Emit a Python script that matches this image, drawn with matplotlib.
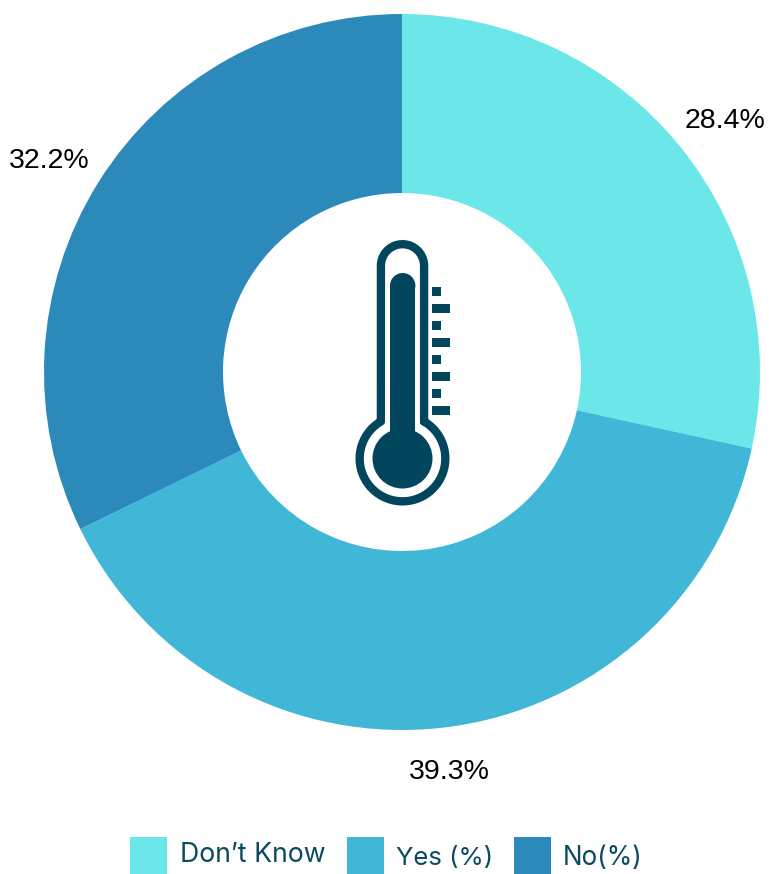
import numpy as np
import matplotlib
matplotlib.use("Agg")
import matplotlib.pyplot as plt
from matplotlib.patches import Rectangle, Circle

categories = ["Don\u2019t Know", "Yes (%)", "No(%)"]
values = [28.4, 39.3, 32.2]
colors = ["#6BE7EA", "#41B7D8", "#2C8ABA"]
ink = "#02465E"
text_dark = "#0B4A60"

W, H = 769, 874
fig = plt.figure(figsize=(W / 100, H / 100), dpi=100)
ax = fig.add_axes([0, 0, 1, 1])

# pixel-space layout: y is negated so that the pie keeps its orientation
cx, cy, R = 402, 372, 358
ax.pie(values, colors=colors, startangle=90, counterclock=False, radius=R,
       center=(cx, -cy), wedgeprops=dict(width=R / 2, linewidth=0))
ax.set_xlim(0, W)
ax.set_ylim(-H, 0)
ax.set_aspect("equal")
ax.axis("off")

# value labels
label_pos = [(724.5, 121), (449, 772), (49.5, 161)]
for v, (x, y) in zip(values, label_pos):
    ax.text(x, -y, f"{v}%", ha="center", va="center", fontsize=20.5,
            family="Liberation Sans", color="black")

# thermometer icon
tx, bulb_y, top_y = 402.5, 458.5, 265.8
tube_r, bulb_r = 21.6, 42.85
a0 = np.arcsin(tube_r / bulb_r)
th = np.linspace(-np.pi / 2 + a0, 3 * np.pi / 2 - a0, 200)
bx, by = tx + bulb_r * np.cos(th), bulb_y + bulb_r * np.sin(th)
th2 = np.linspace(np.pi, 2 * np.pi, 60)
ux, uy = tx + tube_r * np.cos(th2), top_y + tube_r * np.sin(th2)
ox = np.r_[bx, ux, bx[0]]
oy = np.r_[by, uy, by[0]]
ax.plot(ox, -oy, color=ink, lw=6.0, solid_joinstyle="round", solid_capstyle="round")

ax.add_patch(Circle((tx, -bulb_y), 30, fc=ink, ec="none"))
ax.add_patch(Rectangle((390, -440), 25.4, 154, fc=ink, ec="none"))
ax.add_patch(Circle((402.7, -285.7), 12.7, fc=ink, ec="none"))
for i, y in enumerate(np.arange(8) * 17 + 287):
    w = 9 if i % 2 == 0 else 18
    ax.add_patch(Rectangle((432, -(y + 8.8)), w, 8.8, fc=ink, ec="none"))

# legend
box_x = [130, 347, 514]
text_x = [180, 396, 563]
text_y = [855.5, 858, 858]
text_size = [19.2, 18.5, 18.8]
for c, name, bx0, tx0, ty0, fs in zip(colors, categories, box_x, text_x, text_y, text_size):
    ax.add_patch(Rectangle((bx0, -874), 37, 37, fc=c, ec="none"))
    ax.text(tx0, -ty0, name, ha="left", va="center", fontsize=fs,
            family="Inter", color=text_dark)

fig.savefig("out.png", dpi=100)
